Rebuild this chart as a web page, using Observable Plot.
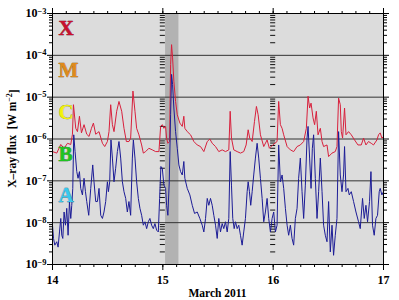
<!DOCTYPE html>
<html><head><meta charset="utf-8">
<script src="https://cdn.jsdelivr.net/npm/d3@7"></script>
<script src="https://cdn.jsdelivr.net/npm/@observablehq/plot@0.6"></script>
<style>body{margin:0;background:#fff} svg{display:block}</style>
</head><body><div id="chart"></div>
<script>
// hours since 2011-03-14 00:00 UT, flux in W m^-2
const redHours = [0,0.93,1.8,2.52,3.26,3.97,4.34,4.56,5.06,5.43,5.86,6.30,6.86,7.45,7.95,8.47,8.90,9.40,10.12,10.86,11.36,11.94,12.29,12.66,13.03,13.38,13.96,14.46,15.05,15.55,16.07,16.63,17.0,17.5,17.94,18.3,18.8,19.39,19.76,20.26,20.97,21.71,22.43,23.15,23.52,23.88,24.23,24.6,24.82,25.1,25.47,25.69,25.9,26.12,26.4,26.77,27.14,27.71,28.23,28.57,28.79,29.31,30.03,30.75,31.48,32.2,32.92,33.66,34.22,34.74,35.46,36.17,36.91,37.63,38.35,38.65,38.93,39.43,40.17,40.89,41.6,42.12,42.56,42.9,43.43,43.93,44.36,44.73,45.23,45.95,46.68,47.18,47.9,48.85,49.2,49.57,49.94,50.29,51.03,51.74,52.46,53.2,53.91,54.63,55.22,55.59,55.93,56.24,56.67,57.02,57.39,57.76,58.26,58.63,58.97,59.71,60.06,60.8,61.51,61.88,62.23,62.6,62.82,63.1,63.53,63.84,64.4,64.99,65.7,66.44,67.16,67.66,68.18,68.74,69.33,69.83,70.57,70.92,71.28,71.65,72];
const redFlux = [5.0e-7,4.6e-7,7.4e-7,6.0e-7,7.9e-7,7.4e-7,1.3e-6,6.6e-6,1.8e-6,1.5e-6,3.5e-6,1.4e-6,2.2e-6,1.3e-6,1.15e-6,1.8e-6,2.4e-6,1.3e-6,1.5e-6,7.9e-7,6.6e-7,8.7e-7,1.5e-6,6.6e-6,2.2e-6,1.5e-6,4.6e-6,7.9e-6,4.6e-6,1.8e-6,8.7e-7,8.7e-7,1.05e-6,1.4e-5,4.6e-6,1.8e-6,1.26e-6,7.2e-7,4.6e-7,5.0e-7,6.0e-7,5.5e-7,5.0e-7,5.0e-7,2.0e-6,2.2e-6,1.8e-6,2.0e-6,1.05e-6,7.9e-7,8.7e-7,6.0e-5,1.8e-4,8.7e-5,2.4e-5,7.9e-6,3.8e-6,2.4e-6,2.0e-6,3.5e-6,1.8e-6,1.5e-6,1.26e-6,8.7e-7,7.2e-7,6.6e-7,5.0e-7,8.7e-7,1.0e-6,7.9e-7,6.6e-7,5.0e-7,5.5e-7,5.0e-7,5.5e-7,4.6e-6,1.05e-6,5.5e-7,5.0e-7,4.6e-7,5.0e-7,7.2e-7,1.66e-6,1.05e-6,8.7e-7,2.6e-6,6.0e-6,3.8e-6,1.26e-6,6.6e-7,9.5e-7,6.0e-7,7.2e-7,8.7e-7,7.9e-6,2.2e-6,1.8e-6,1.26e-6,6.6e-7,5.5e-7,5.0e-7,6.6e-7,7.2e-7,8.7e-7,1.8e-6,1.05e-5,5.5e-6,7.2e-6,3.2e-6,2.2e-6,4.6e-6,1.26e-6,1.8e-6,8.7e-7,6.6e-7,7.2e-7,3.8e-7,4.6e-7,5.0e-7,6.6e-7,9.5e-6,6.6e-6,1.5e-6,1.05e-6,5.5e-6,1.26e-6,1.5e-6,1.26e-6,9.5e-7,7.2e-7,7.2e-7,1.05e-6,7.2e-7,8.7e-7,7.9e-7,7.2e-7,9.5e-7,1.26e-6,1.4e-6,1.05e-6,1.15e-6];

const blueHours = [0,0.22,0.50,0.93,1.22,1.52,1.80,2.02,2.24,2.52,2.82,3.10,3.39,3.69,3.97,4.19,4.41,4.62,4.91,5.28,5.56,5.86,6.14,6.51,6.86,7.17,7.45,7.88,8.32,8.75,9.03,9.40,9.77,10.12,10.49,10.86,11.2,11.57,11.94,12.16,12.44,12.72,13.03,13.38,13.74,14.11,14.46,14.83,15.2,15.55,15.92,16.28,16.63,17.0,17.37,17.59,17.94,18.3,18.67,19.02,19.39,19.76,20.11,20.48,20.84,21.19,21.56,21.93,22.28,22.65,23.02,23.3,23.58,23.88,24.23,24.6,24.82,25.1,25.4,25.69,25.9,26.12,26.4,26.77,27.14,27.49,27.86,28.23,28.57,28.79,29.31,29.88,30.4,30.9,31.48,32.05,32.57,32.92,33.29,33.66,34.0,34.37,34.74,35.09,35.46,35.83,36.17,36.54,36.91,37.26,37.63,38.0,38.35,38.65,38.93,39.21,39.52,39.8,40.17,40.52,40.89,41.25,41.6,41.97,42.34,42.56,42.84,43.12,43.43,43.77,44.14,44.51,44.86,45.23,45.6,45.95,46.31,46.68,47.03,47.4,47.77,48.12,48.49,48.85,49.2,49.57,49.94,50.29,50.66,51.03,51.37,51.74,52.11,52.46,52.83,53.2,53.54,53.91,54.28,54.63,55.0,55.37,55.59,55.93,56.24,56.52,56.8,57.17,57.54,57.89,58.26,58.63,58.97,59.34,59.71,60.06,60.43,60.8,61.14,61.51,61.88,62.23,62.6,62.97,63.31,63.53,63.84,64.27,64.55,64.99,65.49,66.01,66.57,66.94,67.44,67.81,68.18,68.53,68.96,69.27,69.61,69.98,70.35,70.7,71.07,71.28,71.65,72];
const blueFlux = [8.7e-9,4.2e-9,2.9e-9,3.5e-9,2.6e-9,6.0e-9,1.26e-8,5.0e-9,4.2e-9,1.8e-8,8.7e-9,2.2e-8,5.0e-9,3.2e-8,1.26e-8,2.6e-8,6.6e-8,1.26e-6,5.0e-7,1.66e-7,1.15e-7,1.66e-7,6.6e-8,4.6e-8,1.15e-7,5.5e-8,3.2e-8,1.5e-8,6.6e-8,2.4e-7,9.5e-8,3.2e-8,3.2e-8,6.6e-8,1.5e-8,1.26e-8,1.8e-8,3.2e-8,9.5e-8,5.5e-8,9.5e-8,9.5e-7,3.5e-7,9.5e-8,2.0e-7,5.0e-7,8.7e-7,3.5e-7,9.5e-8,5.5e-8,3.8e-8,1.8e-8,3.2e-8,1.5e-8,3.5e-7,9.5e-7,3.5e-7,9.5e-8,3.8e-8,2.2e-8,1.5e-8,8.7e-9,1.05e-8,7.2e-9,1.05e-8,1.26e-8,8.7e-9,7.2e-9,9.5e-9,6.6e-9,6.0e-9,3.8e-8,2.2e-7,2.0e-7,7.9e-8,6.6e-8,2.6e-8,1.5e-8,9.5e-8,3.8e-6,3.5e-5,2.0e-5,5.5e-6,1.5e-6,6.0e-7,2.4e-7,1.66e-7,1.38e-7,2.9e-7,1.15e-7,6.6e-8,4.6e-8,2.6e-8,1.66e-8,1.8e-8,1.26e-8,8.7e-9,6.0e-9,1.26e-8,3.8e-8,2.6e-8,3.8e-8,2.6e-8,1.5e-8,8.7e-9,4.2e-9,1.26e-8,6.0e-9,9.5e-9,7.2e-9,1.05e-8,6.0e-9,1.26e-8,5.0e-7,7.9e-8,1.26e-8,7.2e-9,1.05e-8,7.2e-9,8.7e-9,5.0e-9,2.9e-9,6.0e-9,1.26e-8,5.5e-8,9.5e-8,5.5e-8,2.6e-8,5.5e-8,1.38e-7,3.5e-7,7.9e-7,3.5e-7,1.15e-7,3.8e-8,1.05e-8,1.8e-8,3.8e-8,1.26e-8,6.0e-9,1.26e-8,1.8e-8,6.0e-9,8.7e-9,7.2e-7,9.5e-8,1.38e-7,6.6e-8,2.2e-8,8.7e-9,5.0e-9,8.7e-9,4.2e-9,2.9e-9,1.26e-8,2.2e-8,1.15e-7,3.5e-7,5.5e-8,1.26e-8,7.9e-8,1.05e-6,2.0e-6,3.5e-7,6.6e-8,6.0e-7,1.26e-6,1.15e-7,1.26e-8,5.5e-8,3.5e-7,5.5e-8,8.7e-9,5.0e-9,3.5e-9,3.2e-8,2.0e-9,8.7e-9,1.66e-9,5.0e-9,1.26e-8,1.5e-6,1.38e-7,5.5e-8,1.38e-7,6.6e-7,5.5e-8,6.6e-8,4.6e-8,5.5e-8,3.2e-8,1.8e-8,1.05e-8,7.2e-9,3.8e-8,1.26e-8,2.6e-8,1.05e-8,3.2e-8,1.66e-7,8.7e-9,5.0e-9,1.26e-8,1.5e-8,5.5e-8,6.6e-8,4.6e-8,5.5e-8];

const dayTicks = [0, 24, 48, 72];
const dayLabels = ["14", "15", "16", "17"];
const decadeExps = [-9, -8, -7, -6, -5, -4, -3];
const classLetters = ["X", "M", "C", "B", "A"];
const classThresholds = [1e-4, 1e-5, 1e-6, 1e-7, 1e-8];
const classColors = ["#c8102e", "#de8a1c", "#f2f20a", "#1fc41f", "#38c8ec"];
const classStrokes = ["#6a0010", "#7a4400", "#8a8a00", "#0a600a", "#10607a"];
const eventBand = [{start: 24.6, end: 27.5}];
const xLabel = "March 2011";

const red = redHours.map((h, i) => ({h, f: redFlux[i]}));
const blue = blueHours.map((h, i) => ({h, f: blueFlux[i]}));
const decades = decadeExps.map(e => Math.pow(10, e));
const innerDecades = decades.slice(1, -1);
const minorY = [];
for (const e of decadeExps.slice(0, -1)) for (let m = 2; m <= 9; m++) minorY.push(m * Math.pow(10, e));
const minorX = [];
for (let h = 0; h <= 72; h += 3) minorX.push(h);
const dashDays = dayTicks.slice(1, -1);
const dayDashes = [];
for (const d of dashDays) for (const v of minorY) dayDashes.push({d, v});
const classes = classLetters.map((t, i) => ({t, y: classThresholds[i], fill: classColors[i], stroke: classStrokes[i]}));

const font = "'Liberation Serif','Times New Roman',serif";
const plot = Plot.plot({
  width: 399, height: 300,
  marginLeft: 52, marginRight: 16, marginTop: 13, marginBottom: 36,
  x: {domain: [0, 72]},
  y: {type: "log", domain: [1e-9, 1e-3]},
  style: {fontFamily: font, fontWeight: "bold", fontSize: "12px", background: "#fff", color: "#000"},
  marks: [
    Plot.frame({fill: "#dcdcdc", stroke: null}),
    Plot.rect(eventBand, {x1: "start", x2: "end", fill: "#b2b2b2"}),
    Plot.ruleY(innerDecades, {stroke: "#333", strokeWidth: 1}),
    Plot.ruleY(dayDashes, {y: "v", x1: d => d.d - 0.55, x2: d => d.d + 0.55, stroke: "#111", strokeWidth: 1}),
    Plot.line(red, {x: "h", y: "f", stroke: "#d8203c", strokeWidth: 1}),
    Plot.line(blue, {x: "h", y: "f", stroke: "#1c1c96", strokeWidth: 1}),
    Plot.text(classes, {frameAnchor: "left", dx: 6, y: "y", dy: -27, text: "t", fill: "fill", stroke: "stroke", strokeWidth: 0.5, fontSize: 21, fontWeight: "bold", fontFamily: font, textAnchor: "start", lineAnchor: "middle"}),
    Plot.axisX({ticks: dayTicks, tickSize: 6, tickPadding: 5, tickFormat: d => dayLabels[dayTicks.indexOf(d)], label: null}),
    Plot.axisX({ticks: minorX, tickSize: 3, tickFormat: () => "", label: null}),
    Plot.axisX({anchor: "top", ticks: dayTicks, tickSize: 6, tickFormat: () => "", label: null}),
    Plot.axisX({anchor: "top", ticks: minorX, tickSize: 3, tickFormat: () => "", label: null}),
    Plot.axisY({ticks: decades, tickSize: 5, tickPadding: 1, tickFormat: d => "10^" + Math.round(Math.log10(d)), label: null}),
    Plot.axisY({ticks: minorY, tickSize: 3, tickFormat: () => "", label: null}),
    Plot.axisY({anchor: "right", ticks: decades, tickSize: 5, tickFormat: () => "", label: null}),
    Plot.axisY({anchor: "right", ticks: minorY, tickSize: 3, tickFormat: () => "", label: null}),
    Plot.frame({stroke: "#000", strokeWidth: 1})
  ]
});
document.getElementById("chart").append(plot);

const svg = d3.select(plot);
svg.selectAll("text").each(function() {
  const t = this.textContent;
  if (/^10\^/.test(t)) {
    const exp = t.slice(3).replace("-", "\u2212");
    const sel = d3.select(this);
    sel.text("");
    sel.append("tspan").text("10");
    sel.append("tspan").attr("dy", "-0.45em").attr("font-size", "8.5px").text(exp);
  }
});
const yl = svg.append("text")
  .attr("transform", "translate(16,138.5) rotate(-90)")
  .attr("text-anchor", "middle")
  .attr("font-size", "11.5px")
  .style("white-space", "pre");
yl.append("tspan").text("X\u2013ray flux  [W m");
yl.append("tspan").attr("dy", "-0.45em").attr("font-size", "8px").text("\u22122");
yl.append("tspan").attr("dy", "0.45em").text("]");
svg.append("text")
  .attr("x", 217.5).attr("y", 296.5)
  .attr("text-anchor", "middle")
  .attr("font-size", "11.5px")
  .text(xLabel);
</script>
</body></html>
